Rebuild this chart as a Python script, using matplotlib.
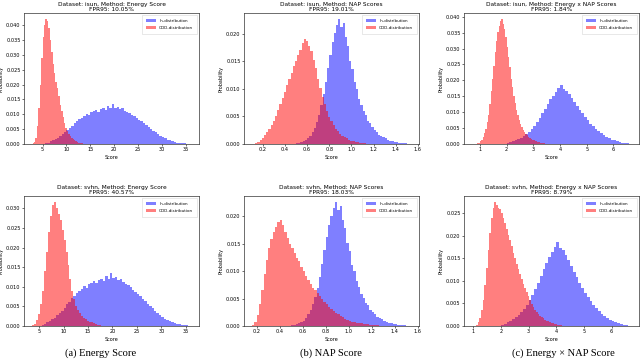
import numpy as np
import matplotlib
matplotlib.use("Agg")
import matplotlib.pyplot as plt
from matplotlib.ticker import MultipleLocator

# ---------------- data ----------------
# In-distribution (same for both OOD datasets), per method
energy_id_start, energy_id_width = 5.5, 0.5
energy_id = [0.0003, 0.0005, 0.0009, 0.0012, 0.0018, 0.0021, 0.0028, 0.0033, 0.0039, 0.0046,
             0.0055, 0.0062, 0.0071, 0.0076, 0.0084, 0.0089, 0.0095, 0.0101, 0.0098, 0.0107,
             0.0110, 0.0114, 0.0109, 0.0118, 0.0121, 0.0116, 0.0128, 0.0120, 0.0134, 0.0122,
             0.0125, 0.0117, 0.0120, 0.0112, 0.0108, 0.0104, 0.0099, 0.0093, 0.0088, 0.0081,
             0.0077, 0.0070, 0.0064, 0.0057, 0.0051, 0.0045, 0.0039, 0.0033, 0.0028, 0.0023,
             0.0019, 0.0015, 0.0012, 0.0009, 0.0007, 0.0005, 0.0004, 0.0003, 0.0002, 0.00015, 0.0001]

nap_id_start, nap_id_width = 0.50, 0.02
nap_id = [0.0001, 0.0002, 0.0003, 0.0005, 0.0007, 0.0010, 0.0015, 0.0021, 0.0029, 0.0040,
          0.0053, 0.0070, 0.0090, 0.0113, 0.0138, 0.0162, 0.0184, 0.0201, 0.0215, 0.0226,
          0.0212, 0.0219, 0.0194, 0.0178, 0.0151, 0.0136, 0.0112, 0.0100, 0.0082, 0.0071,
          0.0059, 0.0052, 0.0042, 0.0038, 0.0030, 0.0026, 0.0021, 0.0017, 0.0015, 0.0012,
          0.0010, 0.0008, 0.0006, 0.0005, 0.0004, 0.0003, 0.00025, 0.0002, 0.00015, 0.0001,
          0.00008, 0.00005]

enap_id_start, enap_id_width = 2.0, 0.1
enap_id = [0.0003, 0.0005, 0.0008, 0.0011, 0.0015, 0.0019, 0.0024, 0.0030, 0.0037, 0.0046,
           0.0057, 0.0069, 0.0082, 0.0096, 0.0110, 0.0126, 0.0140, 0.0152, 0.0163, 0.0175,
           0.0186, 0.0172, 0.0168, 0.0157, 0.0145, 0.0132, 0.0120, 0.0108, 0.0096, 0.0085,
           0.0074, 0.0064, 0.0055, 0.0047, 0.0040, 0.0033, 0.0027, 0.0022, 0.0018, 0.0014,
           0.0011, 0.0008, 0.0006, 0.0004, 0.0003, 0.0002]

# OOD distributions
isun_energy_start, isun_energy_width = 2.9, 0.3
isun_energy = [0.0003, 0.0008, 0.0020, 0.0060, 0.0120, 0.0200, 0.0290, 0.0360, 0.0400, 0.0420,
               0.0415, 0.0390, 0.0350, 0.0310, 0.0270, 0.0240, 0.0210, 0.0190, 0.0160, 0.0130,
               0.0110, 0.0090, 0.0070, 0.0055, 0.0045, 0.0035, 0.0027, 0.0020, 0.0016, 0.0012,
               0.0009, 0.0007, 0.0005, 0.0003, 0.0002, 0.0001]

svhn_energy_start, svhn_energy_width = 3.6, 0.4
svhn_energy = [0.0002, 0.0006, 0.0015, 0.0030, 0.0055, 0.0090, 0.0140, 0.0190, 0.0240, 0.0280,
               0.0310, 0.0316, 0.0300, 0.0285, 0.0270, 0.0245, 0.0220, 0.0190, 0.0155, 0.0120,
               0.0090, 0.0068, 0.0052, 0.0040, 0.0032, 0.0026, 0.0021, 0.0017, 0.0014, 0.0011,
               0.0009, 0.0007, 0.0005, 0.0003, 0.0002, 0.0001]

isun_nap_start, isun_nap_width = 0.13, 0.02
isun_nap = [0.0002, 0.0004, 0.0007, 0.0011, 0.0016, 0.0022, 0.0028, 0.0035, 0.0042, 0.0051,
            0.0061, 0.0072, 0.0084, 0.0094, 0.0106, 0.0118, 0.0129, 0.0141, 0.0150, 0.0162,
            0.0171, 0.0183, 0.0190, 0.0186, 0.0178, 0.0169, 0.0152, 0.0137, 0.0118, 0.0101,
            0.0085, 0.0073, 0.0060, 0.0049, 0.0041, 0.0034, 0.0028, 0.0023, 0.0019, 0.0015,
            0.0012, 0.0010, 0.0008, 0.0006, 0.0005, 0.0004, 0.0003, 0.0002, 0.00015, 0.0001,
            0.00005]

svhn_nap_start, svhn_nap_width = 0.16, 0.02
svhn_nap = [0.0002, 0.0008, 0.0020, 0.0040, 0.0065, 0.0095, 0.0120, 0.0143, 0.0158, 0.0172,
            0.0181, 0.0190, 0.0194, 0.0185, 0.0172, 0.0160, 0.0150, 0.0142, 0.0133, 0.0125,
            0.0118, 0.0108, 0.0100, 0.0092, 0.0084, 0.0076, 0.0070, 0.0065, 0.0060, 0.0054,
            0.0049, 0.0044, 0.0040, 0.0035, 0.0031, 0.0027, 0.0024, 0.0021, 0.0018, 0.0016,
            0.0013, 0.0011, 0.0010, 0.0008, 0.0007, 0.0006, 0.0005, 0.0005, 0.0004, 0.0003,
            0.0003, 0.0002, 0.0002, 0.00015, 0.0001, 0.00008, 0.00005]

isun_enap_start, isun_enap_width = 0.85, 0.05
isun_enap = [0.0001, 0.0002, 0.0004, 0.0008, 0.0014, 0.0022, 0.0033, 0.0048, 0.0068, 0.0092,
             0.0125, 0.0165, 0.0205, 0.0245, 0.0290, 0.0325, 0.0352, 0.0370, 0.0388, 0.0392,
             0.0378, 0.0360, 0.0335, 0.0305, 0.0272, 0.0242, 0.0205, 0.0178, 0.0152, 0.0128,
             0.0108, 0.0092, 0.0075, 0.0062, 0.0052, 0.0044, 0.0037, 0.0031, 0.0027, 0.0022,
             0.0019, 0.0016, 0.0013, 0.0011, 0.0009, 0.0008, 0.0006, 0.0005, 0.0004, 0.0003,
             0.00025, 0.0002, 0.00015, 0.0001, 0.00005]

svhn_enap_start, svhn_enap_width = 1.10, 0.06
svhn_enap = [0.0003, 0.0008, 0.0018, 0.0035, 0.0058, 0.0090, 0.0128, 0.0168, 0.0205, 0.0238,
             0.0262, 0.0274, 0.0268, 0.0262, 0.0258, 0.0250, 0.0238, 0.0228, 0.0215, 0.0202,
             0.0190, 0.0176, 0.0162, 0.0150, 0.0138, 0.0126, 0.0115, 0.0104, 0.0094, 0.0084,
             0.0075, 0.0066, 0.0057, 0.0049, 0.0042, 0.0036, 0.0031, 0.0027, 0.0023, 0.0020,
             0.0017, 0.0014, 0.0012, 0.0010, 0.0008, 0.0007, 0.0006, 0.0005, 0.0004, 0.0003,
             0.0002, 0.00015, 0.0001, 0.00005]

titles = [["Dataset: isun, Method: Energy Score\nFPR95: 10.05%",
           "Dataset: isun, Method: NAP Scores\nFPR95: 19.01%",
           "Dataset: isun, Method: Energy x NAP Scores\nFPR95: 1.84%"],
          ["Dataset: svhn, Method: Energy Score\nFPR95: 40.57%",
           "Dataset: svhn, Method: NAP Scores\nFPR95: 18.03%",
           "Dataset: svhn, Method: Energy x NAP Scores\nFPR95: 8.79%"]]
captions = ["(a) Energy Score", "(b) NAP Score", "(c) Energy \u00d7 NAP Score"]
legend_labels = ["In-distribution", "OOD-distribution"]

id_series = [(energy_id_start, energy_id_width, energy_id),
             (nap_id_start, nap_id_width, nap_id),
             (enap_id_start, enap_id_width, enap_id)]
ood_series = [[(isun_energy_start, isun_energy_width, isun_energy),
               (isun_nap_start, isun_nap_width, isun_nap),
               (isun_enap_start, isun_enap_width, isun_enap)],
              [(svhn_energy_start, svhn_energy_width, svhn_energy),
               (svhn_nap_start, svhn_nap_width, svhn_nap),
               (svhn_enap_start, svhn_enap_width, svhn_enap)]]

# ---------------- layout / style ----------------
W, H = 640, 360
fig = plt.figure(figsize=(6.4, 3.6), dpi=100)
plt.rcParams['font.family'] = ['DejaVu Sans']

col_left = [24, 244, 464]
col_w = 175
row_top = [13, 196]
row_h = [131, 130]
xlims = [[(1.1, 37.8), (0.03, 1.61), (0.4, 6.96)],
         [(1.9, 37.7), (0.09, 1.61), (0.66, 6.99)]]
xsteps = [5, 0.2, 1]
cap_x = [101, 331, 563]


def draw_hist(ax, start, width, heights, color, label):
    heights = np.asarray(heights, dtype=float)
    edges = start + width * np.arange(len(heights) + 1)
    centers = 0.5 * (edges[:-1] + edges[1:])
    ax.hist(centers, bins=edges, weights=heights, color=color, alpha=0.5,
            label=label, histtype='stepfilled', linewidth=0)


for r in range(2):
    for c in range(3):
        ax = fig.add_axes([col_left[c] / W, 1 - (row_top[r] + row_h[r]) / H,
                           col_w / W, row_h[r] / H])
        s, w, h = id_series[c]
        draw_hist(ax, s, w, h, 'blue', legend_labels[0])
        s, w, h = ood_series[r][c]
        draw_hist(ax, s, w, h, 'red', legend_labels[1])
        ax.set_xlim(*xlims[r][c])
        ax.set_ylim(bottom=0)
        ax.xaxis.set_major_locator(MultipleLocator(xsteps[c]))
        ax.yaxis.set_major_locator(MultipleLocator(0.005))
        ax.yaxis.set_major_formatter(matplotlib.ticker.FormatStrFormatter('%.3f'))
        ax.tick_params(labelsize=3.6, length=1.5, width=0.4, pad=1)
        for sp in ax.spines.values():
            sp.set_linewidth(0.5)
            sp.set_color('#333333')
        ax.set_title(titles[r][c], fontsize=4.2, pad=1.5, linespacing=1.1)
        ax.set_xlabel("Score", fontsize=3.5, labelpad=1.5)
        ax.set_ylabel("Probability", fontsize=3.5, labelpad=1.5)
        leg = ax.legend(loc='upper right', fontsize=2.9, handlelength=2.6, handleheight=0.9,
                        handletextpad=0.8, borderpad=1.0, labelspacing=0.7,
                        borderaxespad=0.4, frameon=True, fancybox=True,
                        framealpha=0.8, edgecolor='#cccccc')
        leg.get_frame().set_linewidth(0.4)

for c in range(3):
    fig.text(cap_x[c] / W, 1 - 353 / H, captions[c], ha='center', va='center',
             fontsize=7.6, family='Liberation Serif')

fig.savefig("out.png", dpi=100)
